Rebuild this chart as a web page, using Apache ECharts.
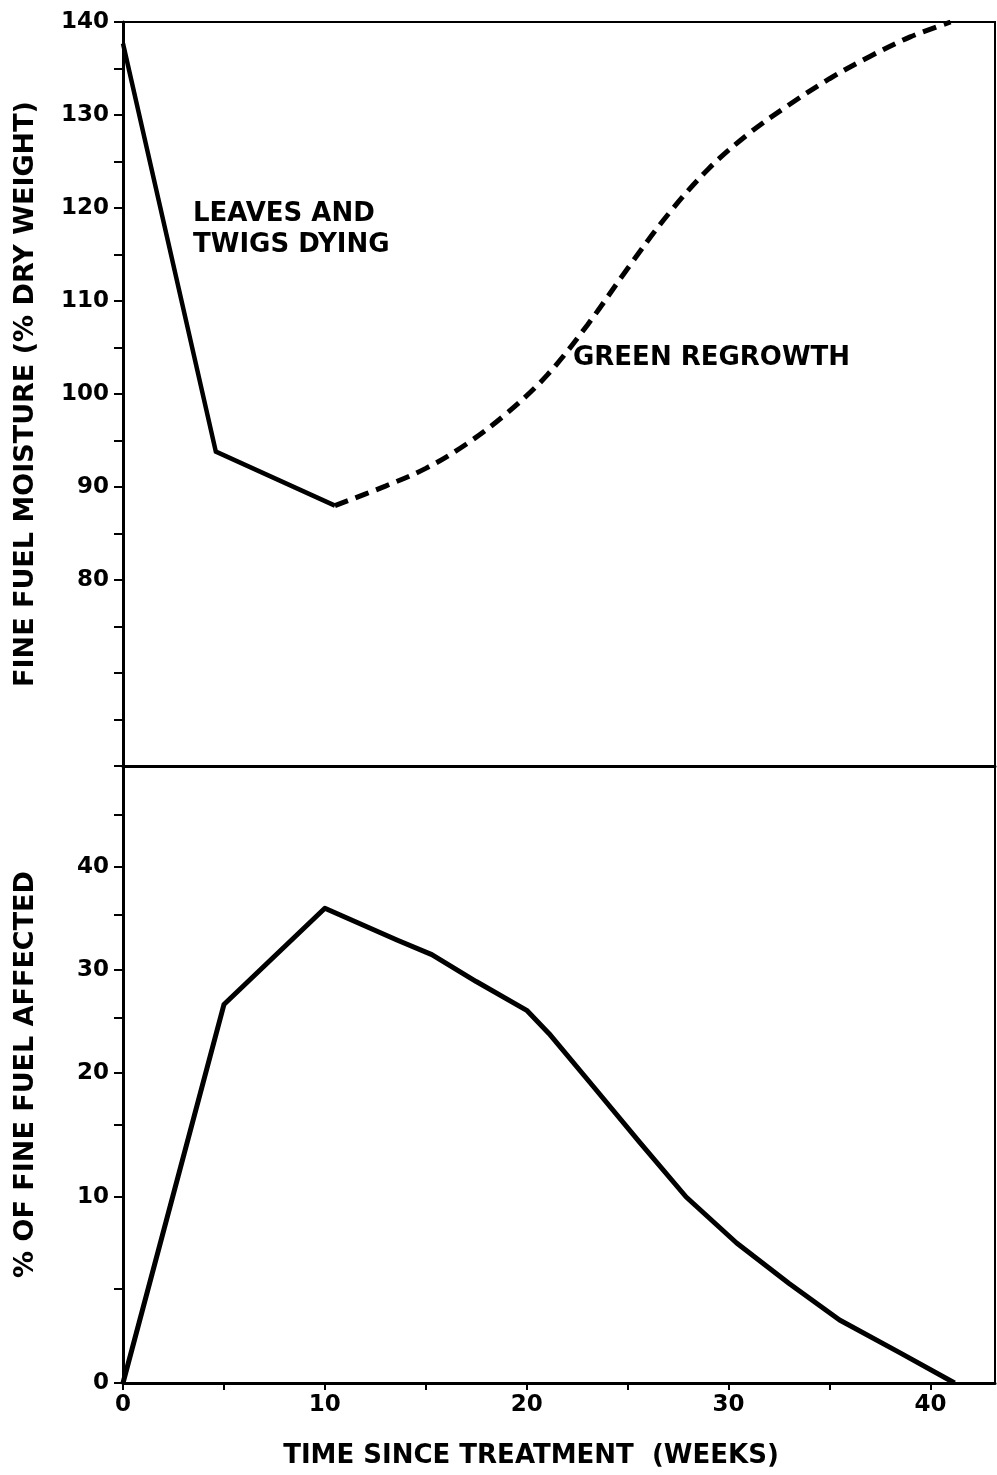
<!DOCTYPE html>
<html>
<head>
<meta charset="utf-8">
<script src="https://cdn.jsdelivr.net/npm/echarts@6/dist/echarts.min.js"></script>
<style>
  html, body { margin: 0; padding: 0; background: #fff; }
  #chart { width: 997px; height: 1475px; }
</style>
</head>
<body>
<div id="chart"></div>
<script>
// ---- data ----
const weekTicks = [0, 10, 20, 30, 40];
const moistureTicks = [80, 90, 100, 110, 120, 130, 140];
const affectedTicks = [0, 10, 20, 30, 40];

// Top panel: fine fuel moisture (% dry weight)
const dyingWeeks = [0, 4.6, 10.5];
const dyingMoisture = [137.7, 93.8, 88];
const regrowthWeeks = [10.5, 13, 15, 17, 19, 21, 23, 25, 27, 29, 31, 33, 35, 37, 39, 41];
const regrowthMoisture = [88, 90.1, 92.0, 94.6, 97.9, 102.0, 107.4, 113.5, 119.3, 124.2, 128.0, 131.1, 133.9, 136.3, 138.4, 140];

// Bottom panel: % of fine fuel affected
const affectedWeeks = [0, 5, 10, 13.6, 15.3, 17.5, 20, 21.1, 23.3, 25.6, 27.9, 30.4, 33, 35.5, 38.5, 41.2];
const affectedPct = [0, 26.4, 35.7, 32.7, 31.4, 28.8, 25.8, 23.6, 18.7, 13.8, 10, 7.5, 5.3, 3.35, 1.6, 0];

// The printed bottom scale is not linear: spacing of its 5-unit steps
const affectedScaleValues = [0, 5, 10, 15, 20, 25, 30, 35, 40, 45, 50];
const affectedScaleStretch = [0, 94, 186, 258, 310, 365, 413, 468, 516, 568, 617];

function toAffectedAxis(v) {
  const xs = affectedScaleValues, ys = affectedScaleStretch;
  if (v <= xs[0]) return ys[0];
  for (let i = 1; i < xs.length; i++) {
    if (v <= xs[i]) {
      const t = (v - xs[i - 1]) / (xs[i] - xs[i - 1]);
      return ys[i - 1] + t * (ys[i] - ys[i - 1]);
    }
  }
  return ys[ys.length - 1];
}
function fromAffectedAxis(a) {
  for (const t of affectedTicks) {
    if (Math.abs(toAffectedAxis(t) - a) < 0.5) return String(t);
  }
  return '';
}

const moistureMinorTicks = [];
for (let v = 60; v <= 140; v += 5) moistureMinorTicks.push(v);
const weekMinorTicks = [];
for (let v = 0; v <= 40; v += 5) weekMinorTicks.push(v);
const affectedMinorTicks = affectedScaleValues.map(toAffectedAxis);

const FONT = '"DejaVu Sans", "Liberation Sans", sans-serif';
const INK = '#000';

const chart = echarts.init(document.getElementById('chart'), null, { renderer: 'canvas' });

const labelStyle = { color: INK, fontFamily: FONT, fontWeight: 'bold', fontSize: 23 };
const nameStyle = { color: INK, fontFamily: FONT, fontWeight: 'bold', fontSize: 27 };

chart.setOption({
  animation: false,
  backgroundColor: '#fff',
  grid: [
    { left: 123, right: 2, top: 22, height: 744, show: true, borderColor: INK, borderWidth: 2, backgroundColor: 'transparent' },
    { left: 123, right: 2, top: 766, height: 617, show: true, borderColor: INK, borderWidth: 2, backgroundColor: 'transparent' }
  ],
  xAxis: [
    {
      gridIndex: 0, type: 'value', min: 0, max: 43.2,
      axisLine: { show: true, lineStyle: { color: INK, width: 3 } },
      axisTick: { show: false }, axisLabel: { show: false }, splitLine: { show: false }
    },
    {
      gridIndex: 1, type: 'value', min: 0, max: 43.2,
      axisLine: { show: true, onZero: false, lineStyle: { color: INK, width: 3 } },
      axisTick: { show: true, inside: false, length: 7, lineStyle: { color: INK, width: 2 }, customValues: weekMinorTicks },
      axisLabel: Object.assign({ margin: 11, customValues: weekTicks }, labelStyle),
      splitLine: { show: false },
      name: 'TIME SINCE TREATMENT  (WEEKS)',
      nameLocation: 'middle', nameGap: 60,
      nameTextStyle: Object.assign({ padding: [0, 56, 0, 0] }, nameStyle, { fontSize: 26 })
    }
  ],
  yAxis: [
    {
      gridIndex: 0, type: 'value', min: 60, max: 140,
      axisLine: { show: true, onZero: false, lineStyle: { color: INK, width: 3 } },
      axisTick: { show: true, inside: false, length: 9, lineStyle: { color: INK, width: 2 }, customValues: moistureMinorTicks },
      axisLabel: Object.assign({ margin: 14, customValues: moistureTicks }, labelStyle),
      splitLine: { show: false },
      name: 'FINE FUEL MOISTURE (% DRY WEIGHT)',
      nameLocation: 'middle', nameGap: 84, nameRotate: 90,
      nameTextStyle: nameStyle
    },
    {
      gridIndex: 1, type: 'value', min: 0, max: affectedScaleStretch[affectedScaleStretch.length - 1],
      axisLine: { show: true, onZero: false, lineStyle: { color: INK, width: 3 } },
      axisTick: { show: true, inside: false, length: 9, lineStyle: { color: INK, width: 2 }, customValues: affectedMinorTicks },
      axisLabel: Object.assign({ margin: 14, customValues: affectedTicks.map(toAffectedAxis), formatter: fromAffectedAxis }, labelStyle),
      splitLine: { show: false },
      name: '% OF FINE FUEL AFFECTED',
      nameLocation: 'middle', nameGap: 84, nameRotate: 90,
      nameTextStyle: nameStyle
    }
  ],
  series: [
    {
      name: 'Leaves and twigs dying', type: 'line', xAxisIndex: 0, yAxisIndex: 0,
      data: dyingWeeks.map((w, i) => [w, dyingMoisture[i]]),
      showSymbol: false, symbol: 'none',
      lineStyle: { color: INK, width: 4.5, join: 'miter' }
    },
    {
      name: 'Green regrowth', type: 'line', xAxisIndex: 0, yAxisIndex: 0,
      data: regrowthWeeks.map((w, i) => [w, regrowthMoisture[i]]),
      smooth: 0.35, showSymbol: false, symbol: 'none',
      lineStyle: { color: INK, width: 5, type: [14, 8] }
    },
    {
      name: 'Fine fuel affected', type: 'line', xAxisIndex: 1, yAxisIndex: 1,
      data: affectedWeeks.map((w, i) => [w, toAffectedAxis(affectedPct[i])]),
      showSymbol: false, symbol: 'none',
      lineStyle: { color: INK, width: 5, join: 'round' }
    }
  ],
  graphic: [
    {
      type: 'text', left: 193, top: 199,
      style: { text: 'LEAVES AND\nTWIGS DYING', fill: INK, font: 'bold 26px ' + FONT, lineHeight: 31 }
    },
    {
      type: 'text', left: 573, top: 345,
      style: { text: 'GREEN REGROWTH', fill: INK, font: 'bold 26px ' + FONT }
    }
  ]
});
</script>
</body>
</html>
